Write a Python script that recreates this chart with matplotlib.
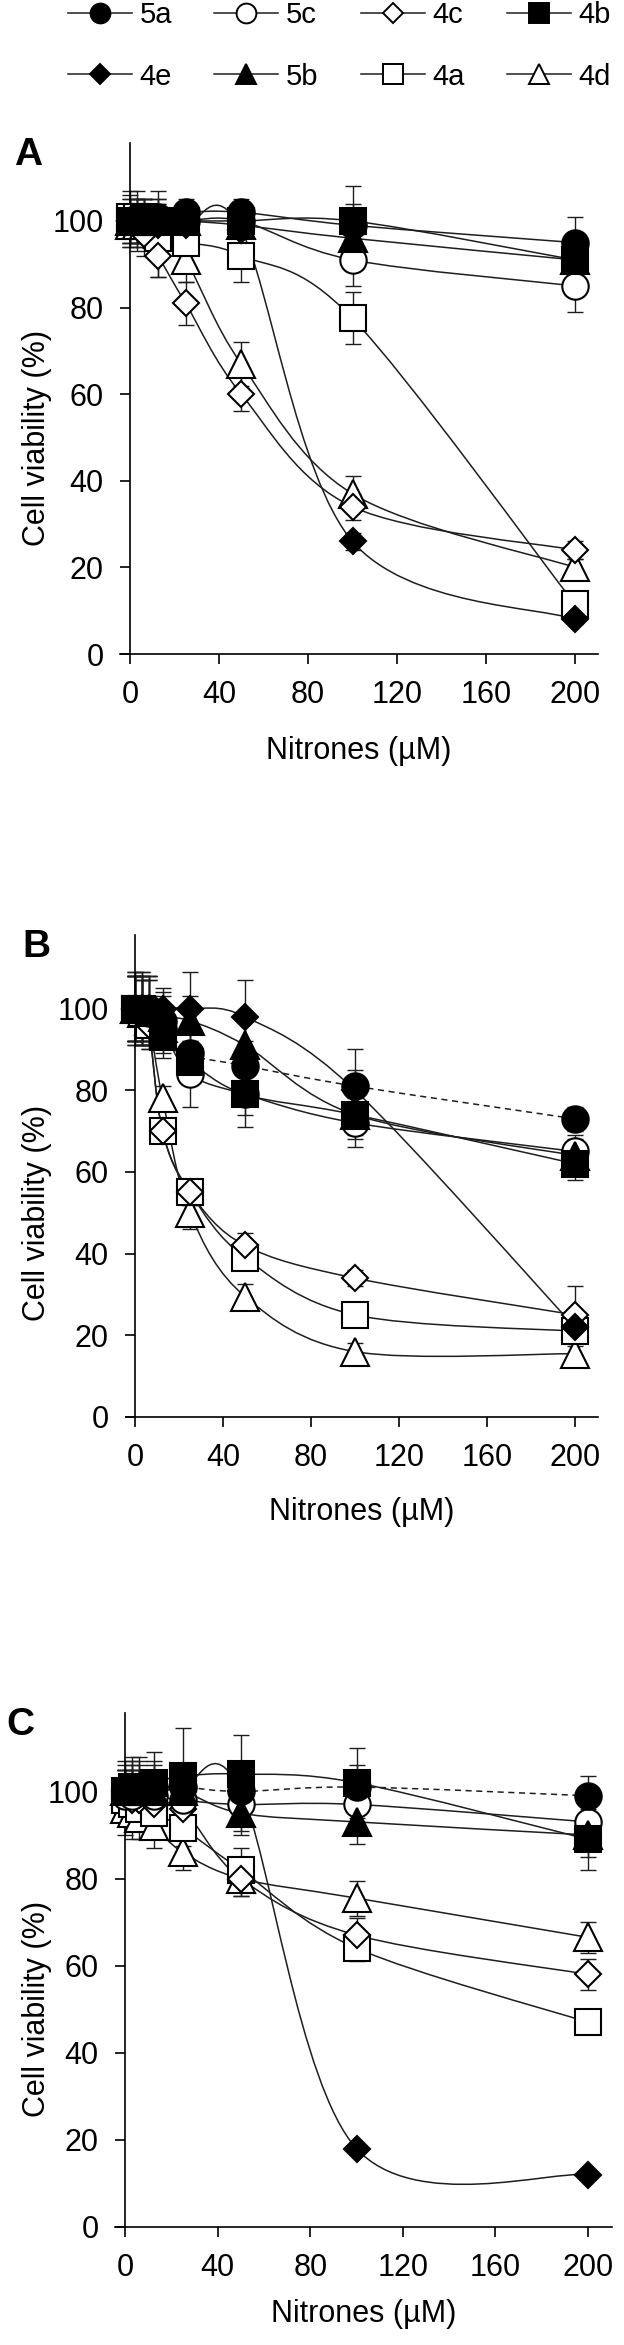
import numpy as np
import matplotlib
matplotlib.use('Agg')
import matplotlib.pyplot as plt
from matplotlib.path import Path
from matplotlib.patches import PathPatch
from matplotlib.lines import Line2D

plt.rcParams['font.family'] = ['Liberation Sans', 'DejaVu Sans']

# nitrone concentrations (uM)
conc = [0, 3.125, 6.25, 12.5, 25, 50, 100, 200]

# cell viability (%), panel A
vals_a = {
    '5a': [100, 100, 101, 101, 102, 102, 99, 95],
    '5c': [100, 100, 100, 100, 100, 100, 91, 85],
    '4c': [100, 99, 97, 92, 81, 60, 34, 24],
    '4b': [100, 100, 101, 100, 100, 100, 100, 91],
    '4e': [100, 100, 100, 99, 99, 98, 26, 8],
    '5b': [100, 100, 100, 100, 100, 99, 96, 91],
    '4a': [101, 101, 100, 96, 95, 92, 77.5, 11.5],
    '4d': [99, 99, 99, 97, 91, 67, 37, 20],
}
err_a = {
    '5a': [4, 4, 4, 4, 3, 3, 5, 6],
    '5c': [5, 5, 5, 5, 4, 4, 6, 6],
    '4c': [6, 6, 5, 5, 5, 4, 3, 2],
    '4b': [5, 5, 4, 4, 4, 4, 8, 5],
    '4e': [4, 4, 4, 4, 4, 4, 2, 1],
    '5b': [4, 4, 4, 4, 4, 4, 4, 4],
    '4a': [6, 6, 5, 5, 5, 6, 6, 2],
    '4d': [5, 5, 5, 10, 5, 5, 4, 2],
}

# panel B
vals_b = {
    '5a': [100, 100, 100, 97, 89, 86, 81, 73],
    '5c': [100, 100, 99, 95, 84, 79, 72, 65],
    '4c': [100, 99, 96, 70, 55, 42, 34, 25],
    '4b': [100, 100, 99, 93, 87, 79, 74, 62],
    '4e': [100, 100, 100, 100, 100, 98, 80, 22],
    '5b': [100, 100, 100, 98, 97, 91, 74, 64],
    '4a': [100, 99, 96, 70, 55, 39, 25, 21],
    '4d': [100, 99, 97, 78, 50, 29.5, 16, 15.5],
}
err_b = {
    '5a': [9, 9, 8, 6, 6, 6, 9, 3],
    '5c': [8, 8, 8, 6, 8, 8, 6, 4],
    '4c': [8, 8, 6, 3, 3, 3, 2, 7],
    '4b': [8, 8, 8, 5, 5, 5, 5, 4],
    '4e': [9, 9, 8, 5, 9, 9, 5, 3],
    '5b': [8, 8, 8, 6, 6, 6, 6, 4],
    '4a': [8, 8, 6, 3, 3, 3, 2, 2],
    '4d': [8, 8, 6, 3, 4, 3, 2, 2],
}

# panel C
vals_c = {
    '5a': [100, 101, 101, 101, 101, 100, 101, 99],
    '5c': [99, 99, 100, 99, 98, 97, 97, 93],
    '4c': [99, 98, 98, 97, 96, 80, 67, 58],
    '4b': [100, 101, 101, 102, 103.5, 104, 102, 89],
    '4e': [100, 101, 101, 101, 101, 100, 18, 12],
    '5b': [100, 100, 100, 100, 100, 95, 93, 90],
    '4a': [98, 97, 96, 95, 91.5, 82, 64, 47],
    '4d': [96, 95, 94, 92, 86, 80, 75.5, 66.5],
}
err_c = {
    '5a': [6, 6, 6, 6, 5, 5, 5, 4.5],
    '5c': [6, 6, 5, 5, 5, 6, 5, 4],
    '4c': [6, 5, 5, 5, 5, 4, 4, 3.5],
    '4b': [7, 7, 7, 7, 11, 9, 8, 7],
    '4e': [5, 5, 5, 5, 5, 5, 1, 1],
    '5b': [5, 5, 5, 5, 5, 5, 5, 5],
    '4a': [5, 5, 5, 5, 4, 5, 3, 2],
    '4d': [6, 6, 5, 5, 4, 4, 4, 3.5],
}

# marker look for each compound
marker = {'5a': 'o', '5c': 'o', '4c': 'D', '4b': 's',
          '4e': 'D', '5b': '^', '4a': 's', '4d': '^'}
face = {'5a': 'black', '5c': 'white', '4c': 'white', '4b': 'black',
        '4e': 'black', '5b': 'black', '4a': 'white', '4d': 'white'}
msize = {'o': 19, 's': 18.5, 'D': 13.5, '^': 20}

draw_order = ['4d', '4a', '4c', '5c', '5b', '4b', '4e', '5a']
line_col = '#1e1e1e'

W, H = 624, 2345


def smooth_path(x, y):
    # excel style smoothed line as cubic bezier segments
    n = len(x)
    verts = [(x[0], y[0])]
    codes = [Path.MOVETO]
    for i in range(n - 1):
        xp, yp = (x[i - 1], y[i - 1]) if i > 0 else (x[i], y[i])
        xn, yn = (x[i + 2], y[i + 2]) if i + 2 < n else (x[i + 1], y[i + 1])
        c1 = (x[i] + (x[i + 1] - xp) / 6, y[i] + (y[i + 1] - yp) / 6)
        c2 = (x[i + 1] - (xn - x[i]) / 6, y[i + 1] - (yn - y[i]) / 6)
        verts += [c1, c2, (x[i + 1], y[i + 1])]
        codes += [Path.CURVE4] * 3
    return Path(verts, codes)


fig = plt.figure(figsize=(W / 100, H / 100), dpi=100)

# (pixel of x=0, pixel of x=200, axis top, axis bottom, letter x, letter,
#  data, errors, dashed 5a, xlabel offset)
panels = [
    (130, 575, 143, 654, 14, 'A', vals_a, err_a, False, 82),
    (135, 575, 935, 1417, 22, 'B', vals_b, err_b, True, 80),
    (125, 588, 1713, 2227, 6, 'C', vals_c, err_c, True, 72),
]

for x0, x200, top, bot, lx, letter, vals, errs, dash, xl_off in panels:
    scale = (x200 - x0) / 200.0
    xmin, xmax = -4.3, 210.3
    left = x0 + xmin * scale
    right = x0 + xmax * scale
    ax = fig.add_axes([left / W, 1 - bot / H, (right - left) / W, (bot - top) / H])

    for k, name in enumerate(draw_order):
        y = vals[name]
        ax.errorbar(conc, y, yerr=errs[name], fmt='none', ecolor=line_col,
                    elinewidth=1.0, capsize=5.5, capthick=1.0, zorder=1)
        ls = (0, (4, 3)) if (dash and name == '5a') else '-'
        ax.add_patch(PathPatch(smooth_path(conc, y), fill=False,
                               edgecolor=line_col, lw=1.1, ls=ls, zorder=2))
        m = marker[name]
        ax.plot(conc, y, ls='none', marker=m, ms=msize[m], mfc=face[name],
                mec='black', mew=1.5, zorder=3 + k, clip_on=False)

    ax.set_xlim(xmin, xmax)
    ax.set_ylim(0, 118)
    ax.spines['top'].set_visible(False)
    ax.spines['right'].set_visible(False)
    ax.spines['left'].set_position(('data', 0))
    for s in ['left', 'bottom']:
        ax.spines[s].set_linewidth(1.2)
    ax.set_xticks([0, 40, 80, 120, 160, 200])
    ax.set_yticks([0, 20, 40, 60, 80, 100])
    ax.tick_params(labelsize=22, length=7, width=1.2, pad=12)

    h_px = bot - top
    w_px = right - left
    ax.set_xlabel('Nitrones (\u00b5M)', fontsize=22)
    ax.xaxis.set_label_coords((x0 + 103 * scale - left) / w_px, -xl_off / h_px)
    ax.set_ylabel('Cell viability (%)', fontsize=22)
    ax.yaxis.set_label_coords((52 - left) / w_px, 50 / 118)

    fig.text(lx / W, 1 - (top - 6) / H, letter, fontsize=28,
             fontweight='bold', va='top', ha='left')

# legend along the top
leg_order = ['5a', '4e', '5c', '5b', '4c', '4a', '4b', '4d']
handles = []
for name in leg_order:
    m = marker[name]
    handles.append(Line2D([], [], color=line_col, lw=1.1, marker=m,
                          ms=msize[m] * 0.75, mfc=face[name], mec='black',
                          mew=1.4))
fig.legend(handles, leg_order, ncol=4, loc='upper left',
           bbox_to_anchor=(68 / W, 1 - 1 / H), frameon=False, fontsize=21,
           handlelength=2.2, handletextpad=0.25, columnspacing=1.45,
           labelspacing=1.15, borderpad=0, borderaxespad=0)

fig.savefig('out.png', dpi=100)
